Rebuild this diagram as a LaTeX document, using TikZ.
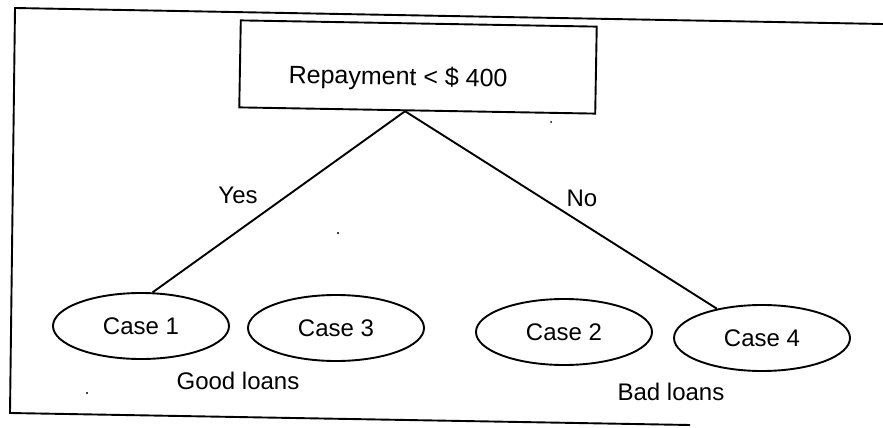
\documentclass[tikz,border=0pt]{standalone}
\usepackage{fontspec}
\setmainfont{Liberation Sans}
\usetikzlibrary{shapes.geometric,calc}
\begin{document}
\begin{tikzpicture}[x=1pt,y=-1pt,line width=1.9pt,
  every node/.style={font=\fontsize{24}{28}\selectfont},
  casebox/.style={ellipse,draw,inner sep=0pt,minimum width=176pt,minimum height=66pt},
  rootbox/.style={rectangle,draw,minimum width=356pt,minimum height=87pt,rotate=-1},
  lbl/.style={inner sep=0pt}]
  \useasboundingbox (0,0) rectangle (883,428);

  % outer frame (open on the right)
  \draw (883,24) -- (15,8) -- (10,413) -- (690,425);

  % root test
  \node[rootbox] (root) at (418,67) {};
  \node[lbl,anchor=base,rotate=-1,font=\fontsize{25}{29}\selectfont] (rootlabel) at (398,85) {Repayment < \$ 400};

  % leaves
  \node[casebox] (c1) at (141,326) {Case 1};
  \node[casebox] (c3) at (336,328) {Case 3};
  \node[casebox] (c2) at (564,332) {Case 2};
  \node[casebox] (c4) at (762,338) {Case 4};

  % branches
  \coordinate (apex) at ($(root.south west)!0.466!(root.south east)$);
  \draw (apex) -- (c1.71);
  \draw (apex) -- (c4.147);

  % branch and group labels
  \node[lbl] (yes) at (238,195) {Yes};
  \node[lbl] (no) at (582,198) {No};
  \node[lbl] (good) at (238,381) {Good loans};
  \node[lbl] (bad) at (671,392) {Bad loans};

  % specks
  \fill (338,233) circle (1.2pt);
  \fill (87,393) circle (1.2pt);
  \fill (551,122) circle (1pt);
\end{tikzpicture}
\end{document}
